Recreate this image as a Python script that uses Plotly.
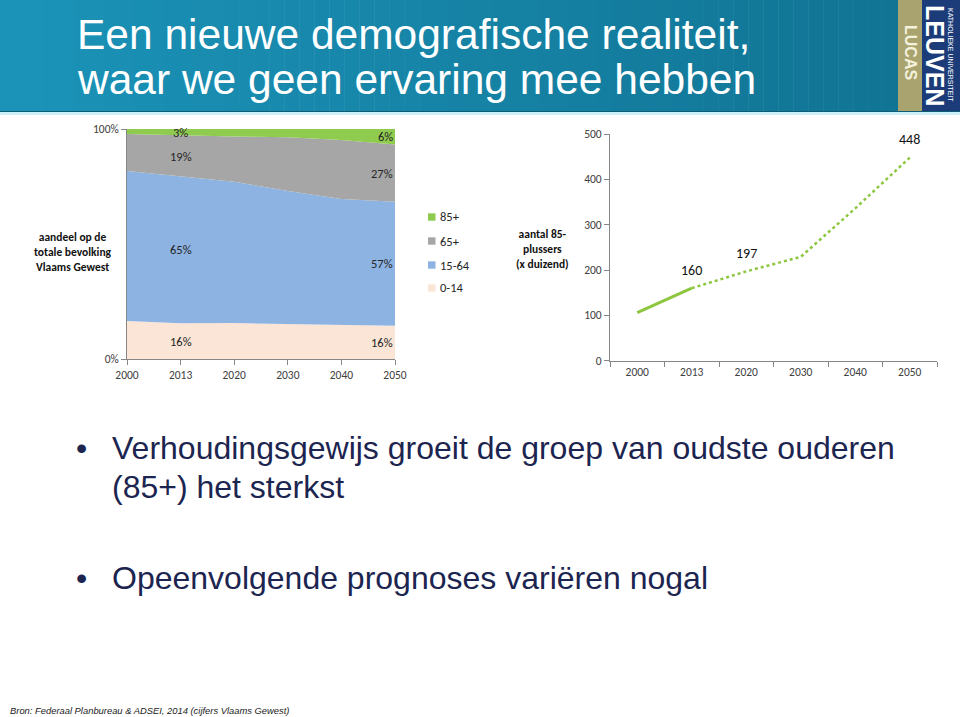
import plotly.graph_objects as go

# ---------------- data ----------------
years = ['2000', '2013', '2020', '2030', '2040', '2050']
group_names = ['0-14', '15-64', '65+', '85+']
share_0_14 = [16.5, 15.5, 15.6, 15.3, 14.8, 14.5]
share_15_64 = [65.2, 63.8, 61.5, 57.7, 54.8, 53.9]
share_65_84 = [16.1, 17.8, 19.6, 23.4, 25.6, 24.9]
share_85 = [2.2, 2.9, 3.3, 3.6, 4.8, 6.7]
labels_2013 = ['16%', '65%', '19%', '3%']
labels_2050 = ['16%', '57%', '27%', '6%']

years_hist = ['2000', '2013']
count_85_hist = [106, 160]
years_proj = ['2013', '2020', '2030', '2040', '2050']
count_85_proj = [160, 197, 229, 336, 448]
labeled_years = ['2013', '2020', '2050']
labeled_counts = [160, 197, 448]

W, H = 960, 717
def px(x):
    return x / W
def py(y):
    return 1 - y / H

colors = ['#FBE5D6', '#8DB3E2', '#A6A6A6', '#8FCB4F']
series = [share_0_14, share_15_64, share_65_84, share_85]

fig = go.Figure()
for n, s, c in zip(group_names, series, colors):
    fig.add_trace(go.Scatter(x=years, y=s, name=n, stackgroup='a', mode='lines',
                             line=dict(width=0), fillcolor=c, showlegend=False,
                             xaxis='x', yaxis='y', hoverinfo='skip'))

green = '#8DC63F'
fig.add_trace(go.Scatter(x=years_hist, y=count_85_hist, mode='lines',
                         line=dict(color=green, width=3), showlegend=False,
                         xaxis='x2', yaxis='y2'))
fig.add_trace(go.Scatter(x=years_proj, y=count_85_proj, mode='lines',
                         line=dict(color=green, width=2.5, dash='dot'), showlegend=False,
                         xaxis='x2', yaxis='y2'))

chart_font = 'Carlito, Lato, Open Sans, sans-serif'
axis_col = '#868686'
tick_font = dict(family=chart_font, size=11.5, color='#404040')
ax_common = dict(showline=True, linecolor=axis_col, linewidth=1, ticks='outside', ticklen=5,
                 tickcolor=axis_col, tickwidth=1, tickfont=tick_font, showgrid=False,
                 zeroline=False, automargin=False)

fig.update_layout(
    template='none',
    autosize=True, margin=dict(l=0, r=0, t=0, b=0, pad=0, autoexpand=False),
    paper_bgcolor='white', plot_bgcolor='rgba(0,0,0,0)', showlegend=False,
    xaxis=dict(domain=[px(127), px(395)], anchor='y', type='category', range=[0, 5],
               categoryorder='array', categoryarray=years, **ax_common),
    yaxis=dict(domain=[py(359), py(129)], anchor='x', range=[0, 100],
               tickvals=[0, 100], ticktext=['0%', '100%'], **ax_common),
    xaxis2=dict(domain=[px(610), px(937)], anchor='y2', type='category', range=[-0.5, 5.5],
                tickson='boundaries', categoryorder='array', categoryarray=years, **ax_common),
    yaxis2=dict(domain=[py(360.7), py(134)], anchor='x2', range=[0, 500], dtick=100,
                **ax_common),
)

shapes = []
annotations = []

# ---------- header gradient ----------
c0 = (27, 147, 184)
c1 = (17, 116, 148)
n = 60
hx = 898
for i in range(n):
    t = i / (n - 1)
    c = tuple(int(round(a + (b - a) * t)) for a, b in zip(c0, c1))
    shapes.append(dict(type='rect', xref='paper', yref='paper',
                       x0=px(hx * i / n), x1=px(hx * (i + 1) / n + 0.5),
                       y0=py(111), y1=py(0), line=dict(width=0),
                       fillcolor='rgb(%d,%d,%d)' % c, layer='below'))
shapes.append(dict(type='rect', xref='paper', yref='paper', x0=px(898), x1=px(922),
                   y0=py(111), y1=py(0), line=dict(width=0), fillcolor='#A9A46F', layer='below'))
shapes.append(dict(type='rect', xref='paper', yref='paper', x0=px(922), x1=px(960),
                   y0=py(111), y1=py(0), line=dict(width=0), fillcolor='#1B3C79', layer='below'))
shapes.append(dict(type='rect', xref='paper', yref='paper', x0=0, x1=1,
                   y0=py(112), y1=py(111), line=dict(width=0), fillcolor='#0D5C74', layer='below'))
shapes.append(dict(type='rect', xref='paper', yref='paper', x0=0, x1=1,
                   y0=py(115), y1=py(112), line=dict(width=0), fillcolor='#CDEFF7', layer='below'))

title_font = dict(family='Liberation Sans, Arial, sans-serif', size=42.5, color='white')
annotations.append(dict(text='Een nieuwe demografische realiteit,', xref='paper', yref='paper',
                        x=px(75), y=py(35), xanchor='left', yanchor='middle',
                        showarrow=False, font=title_font))
annotations.append(dict(text='waar we geen ervaring mee hebben', xref='paper', yref='paper',
                        x=px(75), y=py(79), xanchor='left', yanchor='middle',
                        showarrow=False, font=title_font))
annotations.append(dict(text='<b>LUCAS</b>', xref='paper', yref='paper', x=px(910), y=py(52),
                        textangle=90, showarrow=False, xanchor='center', yanchor='middle',
                        font=dict(family='Liberation Sans, Arial', size=16, color='#F4F1DC')))
annotations.append(dict(text='<b>LEUVEN</b>', xref='paper', yref='paper', x=px(935), y=py(55),
                        textangle=90, showarrow=False, xanchor='center', yanchor='middle',
                        font=dict(family='Liberation Sans, Arial', size=25, color='white')))
annotations.append(dict(text='KATHOLIEKE UNIVERSITEIT', xref='paper', yref='paper', x=px(951), y=py(55),
                        textangle=90, showarrow=False, xanchor='center', yanchor='middle',
                        font=dict(family='Liberation Sans, Arial', size=7, color='white')))

# ---------- left chart data labels (band centres) ----------
lab_font = dict(family=chart_font, size=12.5, color='#262626')
for idx, labels, anchor in [(1, labels_2013, 'center'), (5, labels_2050, 'right')]:
    base = 0
    for s, lab in zip(series, labels):
        v = s[idx]
        annotations.append(dict(text=lab, x=idx, y=base + v / 2, xref='x', yref='y',
                                showarrow=False, xanchor=anchor, yanchor='middle', font=lab_font))
        base += v

# ---------- right chart data labels ----------
for yr, v in zip(labeled_years, labeled_counts):
    annotations.append(dict(text=str(v), x=years.index(yr), y=v, xref='x2', yref='y2',
                            showarrow=False, yshift=18, xanchor='center', yanchor='middle',
                            font=dict(family=chart_font, size=14, color='#111111')))

# ---------- axis titles ----------
bold_font = dict(family=chart_font, size=11.5, color='#111111')
annotations.append(dict(text='<b>aandeel op de<br>totale bevolking<br>Vlaams Gewest</b>',
                        xref='paper', yref='paper', x=px(73), y=py(252), showarrow=False,
                        xanchor='center', yanchor='middle', align='center', font=bold_font))
annotations.append(dict(text='<b>aantal 85-<br>plussers<br>(x duizend)</b>',
                        xref='paper', yref='paper', x=px(542), y=py(249), showarrow=False,
                        xanchor='center', yanchor='middle', align='center', font=bold_font))

# ---------- custom legend ----------
leg_y = [288, 265, 241, 217]
for name, c, yy in zip(group_names, colors, leg_y):
    shapes.append(dict(type='rect', xref='paper', yref='paper', x0=px(428), x1=px(435.5),
                       y0=py(yy + 3.7), y1=py(yy - 3.7), line=dict(width=0), fillcolor=c))
    annotations.append(dict(text=name, xref='paper', yref='paper', x=px(438), y=py(yy),
                            showarrow=False, xanchor='left', yanchor='middle',
                            font=dict(family=chart_font, size=12.5, color='#262626')))

# ---------- bullets ----------
bfont = dict(family='Liberation Sans, Arial, sans-serif', size=32, color='#1C2550')
for yy, txt, bullet in [(448, 'Verhoudingsgewijs groeit de groep van oudste ouderen', True),
                        (487, '(85+) het sterkst', False),
                        (578, 'Opeenvolgende prognoses variëren nogal', True)]:
    annotations.append(dict(text=txt, xref='paper', yref='paper', x=px(110), y=py(yy),
                            showarrow=False, xanchor='left', yanchor='middle', font=bfont))
    if bullet:
        annotations.append(dict(text='•', xref='paper', yref='paper', x=px(81), y=py(yy),
                                showarrow=False, xanchor='center', yanchor='middle', font=bfont))

annotations.append(dict(text='<i>Bron: Federaal Planbureau &amp; ADSEI, 2014 (cijfers Vlaams Gewest)</i>',
                        xref='paper', yref='paper', x=px(8), y=py(710), showarrow=False,
                        xanchor='left', yanchor='middle',
                        font=dict(family='Liberation Sans, Arial, sans-serif', size=9.4, color='#222222')))

fig.update_layout(shapes=shapes, annotations=annotations)
fig.write_html('out.html', default_width='100vw', default_height='100vh',
               config={'responsive': True},
               post_script="document.documentElement.style.margin='0';document.body.style.margin='0';"
                           "document.body.style.padding='0';document.body.style.overflow='hidden';"
                           "window.dispatchEvent(new Event('resize'));")
